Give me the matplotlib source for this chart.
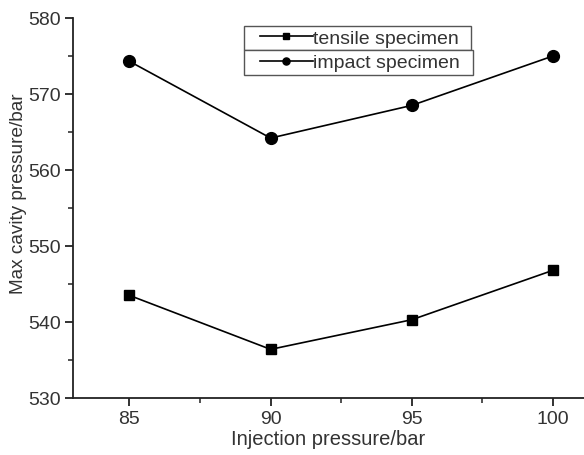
import matplotlib
matplotlib.use("Agg")
import matplotlib.pyplot as plt
from matplotlib.patches import Rectangle
from matplotlib.ticker import MultipleLocator

plt.rcParams['font.family'] = ['Liberation Sans', 'DejaVu Sans']

injection = [85, 90, 95, 100]
tensile = [543.5, 536.4, 540.3, 546.8]
impact = [574.3, 564.2, 568.5, 575.0]

txt = '#333333'
W, H = 584, 456

fig = plt.figure(figsize=(W / 100, H / 100), dpi=100)
ax = fig.add_axes([73 / W, 1 - 399 / H, 1 - 73 / W, 380 / H])

l1, = ax.plot(injection, tensile, '-s', color='black', lw=1.2, ms=7, label='tensile specimen')
l2, = ax.plot(injection, impact, '-o', color='black', lw=1.2, ms=8.5, label='impact specimen')

ax.set_xlim(83.0, 101.1)
ax.set_ylim(530, 580)
ax.xaxis.set_major_locator(MultipleLocator(5))
ax.xaxis.set_minor_locator(MultipleLocator(2.5))
ax.yaxis.set_major_locator(MultipleLocator(10))
ax.yaxis.set_minor_locator(MultipleLocator(5))

for s in ['top', 'right']:
    ax.spines[s].set_visible(False)
for s in ['left', 'bottom']:
    ax.spines[s].set_linewidth(1.3)
    ax.spines[s].set_color('#222222')

ax.tick_params(which='major', direction='out', length=6, width=1.3, labelsize=14,
               labelcolor=txt, color='#222222', pad=3)
ax.tick_params(which='minor', direction='out', length=3.5, width=1.1, color='#222222')

ax.set_xlabel('Injection pressure/bar', fontsize=14.5, color=txt, labelpad=1)
ax.set_ylabel('Max cavity pressure/bar', fontsize=13.7, color=txt)
ax.yaxis.set_label_coords(-0.09, 0.54)

# two stacked boxes, one legend entry in each
boxes = [(244, 27, 227, 24), (244, 51, 229, 25)]
for (bx, by, bw, bh), line in zip(boxes, [l1, l2]):
    fig.patches.append(Rectangle((bx / W, 1 - (by + bh) / H), bw / W, bh / H,
                                 transform=fig.transFigure, facecolor='white',
                                 edgecolor='#555555', lw=1.0, zorder=5))
    lg = fig.legend(handles=[line], loc='center left',
                    bbox_to_anchor=(260 / W, 1 - (by + bh / 2) / H),
                    fontsize=14, frameon=False, handlelength=2.7,
                    handletextpad=0.05, borderpad=0, borderaxespad=0, markerscale=0.6)
    lg.set_zorder(6)
    for t in lg.get_texts():
        t.set_color(txt)

fig.savefig('out.png', dpi=100)
